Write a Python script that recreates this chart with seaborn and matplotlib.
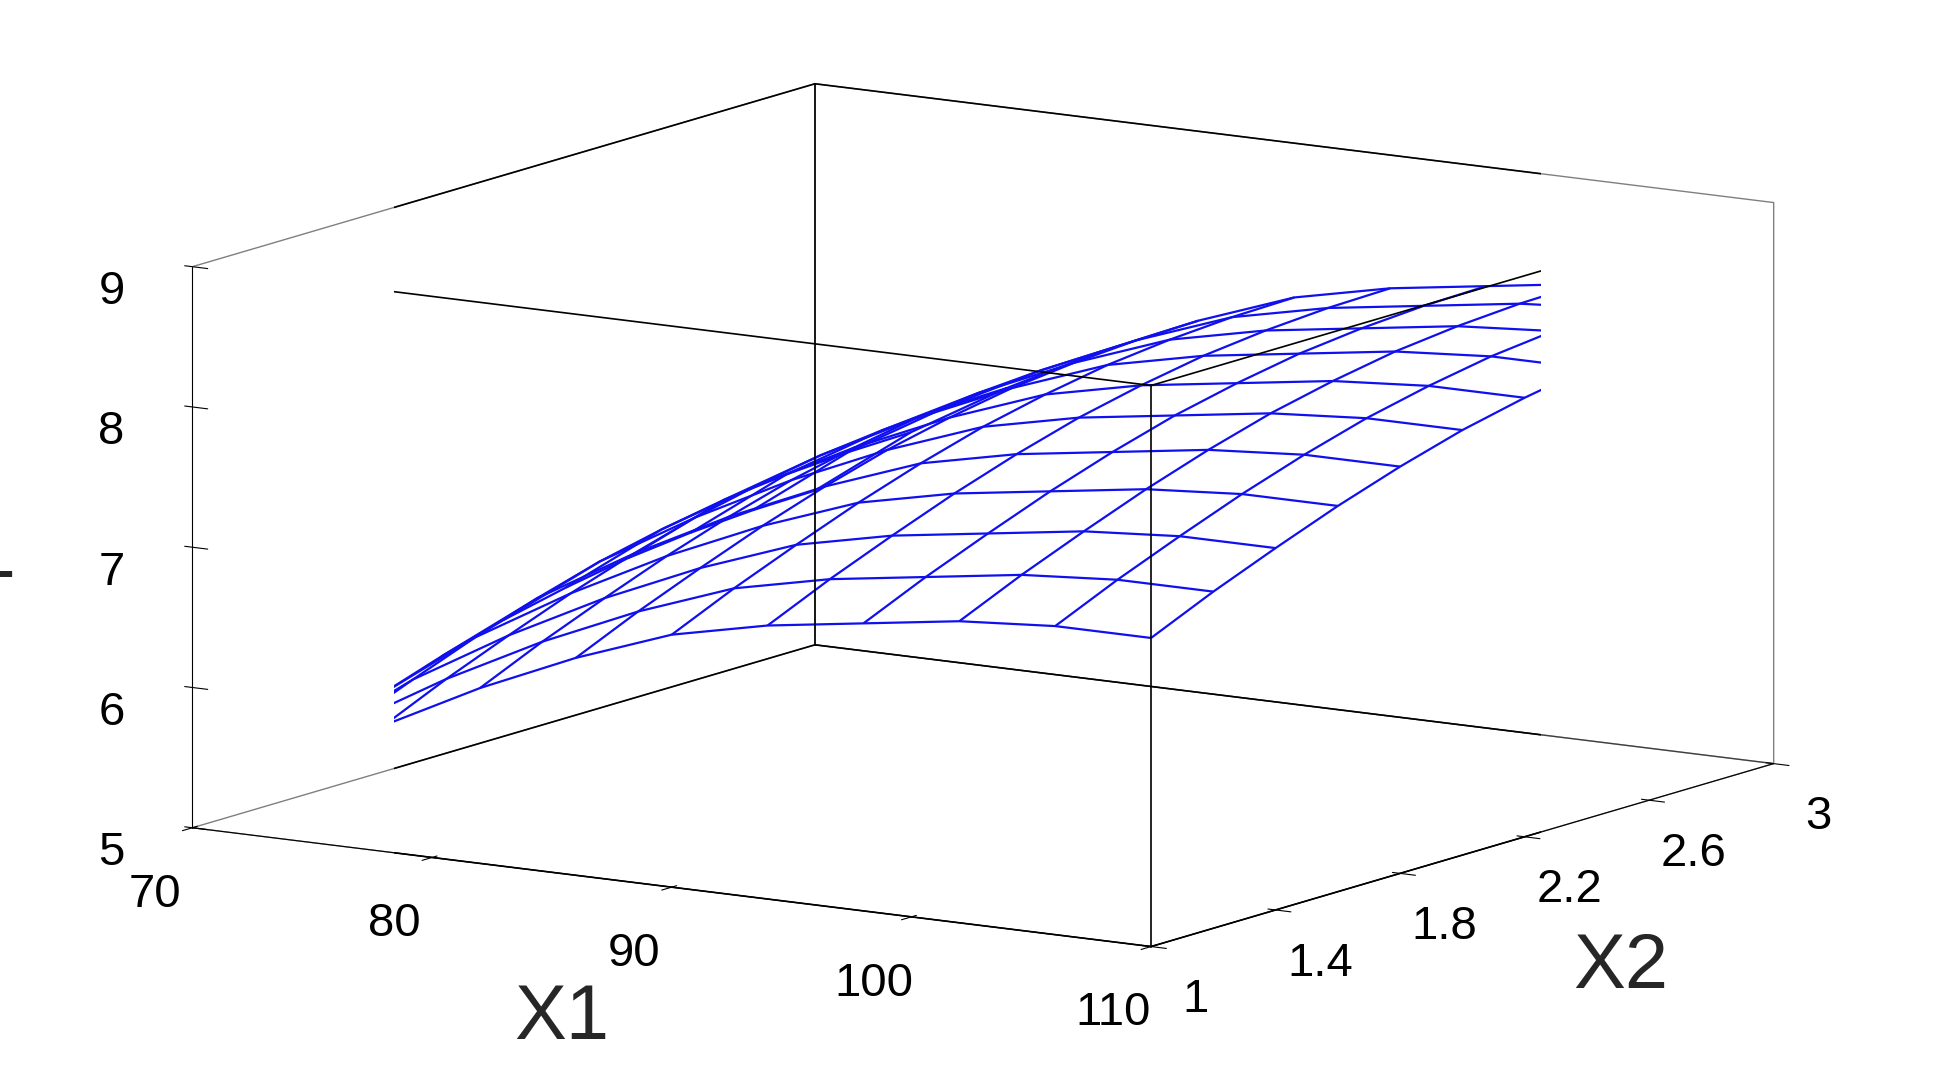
import numpy as np
import matplotlib.pyplot as plt
import seaborn as sns
from itertools import product

sns.set_style("white")
plt.rcParams['font.family'] = ['Arial', 'Liberation Sans', 'DejaVu Sans']

x1_levels = [70, 74, 78, 82, 86, 90, 94, 98, 102, 106, 110]
x2_levels = [1.0, 1.2, 1.4, 1.6, 1.8, 2.0, 2.2, 2.4, 2.6, 2.8, 3.0]
y1_at_x2_1 = [5.0, 5.5, 5.9, 6.25, 6.55, 6.8, 6.95, 7.05, 7.15, 7.2, 7.2]
x2_gain = [0.0, 0.2, 0.38, 0.55, 0.7, 0.83, 0.93, 1.01, 1.06, 1.09, 1.1]

X1, X2 = np.meshgrid(x1_levels, x2_levels, indexing='ij')
Y1 = np.add.outer(y1_at_x2_1, x2_gain)

fig = plt.figure(figsize=(19.35, 10.83), dpi=100)
ax = fig.add_axes([-0.02, -0.02, 1.04, 1.06], projection='3d')
ax.set_proj_type('ortho')
ax.view_init(elev=11, azim=-57)
ax.set_box_aspect((1.0, 1.0, 0.5), zoom=1.45)

ax.plot_wireframe(X1, X2, Y1, color='#1010ee', linewidth=1.6)

# full bounding box
lims = [(70, 110), (1, 3), (5, 9)]
for a, b in product(*lims[1:]):
    ax.plot([70, 110], [a, a], [b, b], color='black', lw=1.2)
for a, b in product(lims[0], lims[2]):
    ax.plot([a, a], [1, 3], [b, b], color='black', lw=1.2)
for a, b in product(lims[0], lims[1]):
    ax.plot([a, a], [b, b], [5, 9], color='black', lw=1.2)

ax.set_xlim(70, 110)
ax.set_ylim(1, 3)
ax.set_zlim(5, 9)
ax.set_xticks([70, 80, 90, 100, 110])
ax.set_yticks([1, 1.4, 1.8, 2.2, 2.6, 3])
ax.set_yticklabels(['1', '1.4', '1.8', '2.2', '2.6', '3'])
ax.set_zticks([5, 6, 7, 8, 9])
ax.tick_params(labelsize=34, colors='black')
ax.tick_params(axis='x', pad=18)
ax.tick_params(axis='y', pad=12)
ax.tick_params(axis='z', pad=14)

for axis in (ax.xaxis, ax.yaxis, ax.zaxis):
    axis.pane.fill = False
    axis.pane.set_edgecolor('black')
    axis._axinfo['grid']['linewidth'] = 0
    axis.line.set_color('black')
ax.grid(False)
ax.zaxis._axinfo['juggled'] = (1, 2, 0)

ax.set_xlabel('X1', fontsize=56, labelpad=55)
ax.set_ylabel('X2', fontsize=56, labelpad=50)
ax.set_zlabel('Y1', fontsize=56, labelpad=40)

fig.savefig('out.png', dpi=100)
